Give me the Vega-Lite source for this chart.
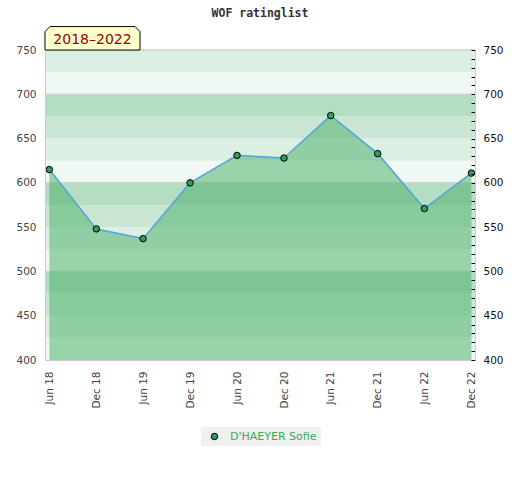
{
  "$schema": "https://vega.github.io/schema/vega-lite/v6.json",
  "width": 430,
  "height": 310,
  "autosize": {"type": "none"},
  "padding": {"left": 45, "top": 50, "right": 45, "bottom": 120},
  "background": "white",
  "title": {
    "text": "WOF ratinglist",
    "font": "DejaVu Sans Mono",
    "fontSize": 11.5,
    "fontWeight": "bold",
    "color": "#333333",
    "anchor": "middle",
    "offset": 5
  },
  "datasets": {
    "ratings": [
      {"date": "2018-06-15", "rating": 615, "player": "D'HAEYER Sofie"},
      {"date": "2018-12-15", "rating": 548, "player": "D'HAEYER Sofie"},
      {"date": "2019-06-15", "rating": 537, "player": "D'HAEYER Sofie"},
      {"date": "2019-12-15", "rating": 600, "player": "D'HAEYER Sofie"},
      {"date": "2020-06-15", "rating": 631, "player": "D'HAEYER Sofie"},
      {"date": "2020-12-15", "rating": 628, "player": "D'HAEYER Sofie"},
      {"date": "2021-06-15", "rating": 676, "player": "D'HAEYER Sofie"},
      {"date": "2021-12-15", "rating": 633, "player": "D'HAEYER Sofie"},
      {"date": "2022-06-15", "rating": 571, "player": "D'HAEYER Sofie"},
      {"date": "2022-12-15", "rating": 611, "player": "D'HAEYER Sofie"}
    ],
    "bands": [
      {"lo": 400, "hi": 425, "shade": 0},
      {"lo": 425, "hi": 450, "shade": 1},
      {"lo": 450, "hi": 475, "shade": 2},
      {"lo": 475, "hi": 500, "shade": 3},
      {"lo": 500, "hi": 525, "shade": 0},
      {"lo": 525, "hi": 550, "shade": 1},
      {"lo": 550, "hi": 575, "shade": 2},
      {"lo": 575, "hi": 600, "shade": 3},
      {"lo": 600, "hi": 625, "shade": 0},
      {"lo": 625, "hi": 650, "shade": 1},
      {"lo": 650, "hi": 675, "shade": 2},
      {"lo": 675, "hi": 700, "shade": 3},
      {"lo": 700, "hi": 725, "shade": 0},
      {"lo": 725, "hi": 750, "shade": 1}
    ],
    "badge": [{"label": "2018–2022"}]
  },
  "layer": [
    {
      "data": {"name": "bands"},
      "mark": {"type": "rect"},
      "encoding": {
        "y": {
          "field": "lo", "type": "quantitative",
          "scale": {"domain": [400, 750], "nice": false, "zero": false},
          "axis": {
            "orient": "left",
            "values": [400, 450, 500, 550, 600, 650, 700, 750],
            "ticks": false,
            "labelPadding": 9,
            "domainColor": "#cccccc",
            "labelColor": "#444444",
            "zindex": 1,
            "title": null,
            "grid": false
          }
        },
        "y2": {"field": "hi"},
        "color": {
          "field": "shade", "type": "ordinal",
          "scale": {"domain": [0, 1, 2, 3], "range": ["#eff8f2", "#dcefe3", "#c8e6d3", "#b4ddc2"]},
          "legend": null
        }
      }
    },
    {
      "data": {"name": "bands"},
      "transform": [{"filter": "datum.shade == 0 && datum.lo > 400"}],
      "mark": {"type": "rule", "color": "#d3d3d3", "strokeWidth": 1.5},
      "encoding": {
        "y": {"field": "lo", "type": "quantitative", "axis": null}
      }
    },
    {
      "data": {"name": "bands"},
      "transform": [{"filter": "datum.hi == 750"}],
      "mark": {"type": "rule", "color": "#d3d3d3", "strokeWidth": 1.5},
      "encoding": {
        "y": {"field": "hi", "type": "quantitative", "axis": null}
      }
    },
    {
      "data": {"name": "ratings"},
      "mark": {"type": "area", "color": "#4bb168", "opacity": 0.52},
      "encoding": {
        "x": {
          "field": "date", "type": "temporal",
          "scale": {"domain": [{"year": 2018, "month": 5, "date": 29}, {"year": 2022, "month": 12, "date": 29}]},
          "axis": {
            "orient": "bottom",
            "values": [
              {"year": 2018, "month": 6, "date": 15}, {"year": 2018, "month": 12, "date": 15},
              {"year": 2019, "month": 6, "date": 15}, {"year": 2019, "month": 12, "date": 15},
              {"year": 2020, "month": 6, "date": 15}, {"year": 2020, "month": 12, "date": 15},
              {"year": 2021, "month": 6, "date": 15}, {"year": 2021, "month": 12, "date": 15},
              {"year": 2022, "month": 6, "date": 15}, {"year": 2022, "month": 12, "date": 15}
            ],
            "format": "%b %y",
            "labelAngle": -90,
            "labelPadding": 11,
            "ticks": false,
            "grid": false,
            "domainColor": "#cccccc",
            "labelColor": "#444444",
            "labelFontSize": 10.5,
            "zindex": 1,
            "title": null
          }
        },
        "y": {"field": "rating", "type": "quantitative", "axis": null},
        "y2": {"datum": 400}
      }
    },
    {
      "data": {"name": "ratings"},
      "mark": {"type": "line", "color": "#5aa5d8", "strokeWidth": 1.6},
      "encoding": {
        "x": {"field": "date", "type": "temporal", "axis": null},
        "y": {
          "field": "rating", "type": "quantitative",
          "axis": {
            "orient": "right",
            "values": [400, 410, 420, 430, 440, 450, 460, 470, 480, 490, 500, 510, 520, 530, 540, 550, 560, 570, 580, 590, 600, 610, 620, 630, 640, 650, 660, 670, 680, 690, 700, 710, 720, 730, 740, 750],
            "labelExpr": "datum.value % 50 === 0 ? datum.label : ''",
            "tickSize": -4,
            "tickColor": "#000000",
            "labelPadding": 12,
            "labelColor": "#111111",
            "domainColor": "#cccccc",
            "grid": false,
            "zindex": 1,
            "title": null
          }
        }
      }
    },
    {
      "data": {"name": "ratings"},
      "transform": [{"filter": "datum.date === '2018-06-15' || datum.date === '2022-12-15'"}],
      "mark": {"type": "rule", "color": "#3c9a52", "strokeWidth": 1.2},
      "encoding": {
        "x": {"field": "date", "type": "temporal", "axis": null},
        "y": {"field": "rating", "type": "quantitative", "axis": null},
        "y2": {"datum": 400}
      }
    },
    {
      "data": {"name": "ratings"},
      "mark": {"type": "point", "shape": "circle", "filled": true, "size": 42, "stroke": "#000000", "strokeWidth": 1, "opacity": 1},
      "encoding": {
        "x": {"field": "date", "type": "temporal", "axis": null},
        "y": {"field": "rating", "type": "quantitative", "axis": null},
        "fill": {
          "field": "player", "type": "nominal",
          "scale": {"range": ["#2e9e58"]},
          "legend": {
            "orient": "none",
            "legendX": 156,
            "legendY": 377,
            "direction": "horizontal",
            "title": null,
            "fillColor": "#f0f0f0",
            "padding": 4,
            "symbolType": "circle",
            "symbolSize": 42,
            "symbolStrokeColor": "#000000",
            "symbolStrokeWidth": 1,
            "symbolOffset": 4,
            "labelFont": "DejaVu Sans",
            "labelFontSize": 11,
            "labelColor": "#3aaa5a",
            "labelOffset": 10
          }
        }
      }
    },
    {
      "data": {"name": "badge"},
      "mark": {
        "type": "point",
        "shape": "M -1 0.247 L -1 -0.142 L -0.895 -0.247 L 0.895 -0.247 L 1 -0.142 L 1 0.247 Z",
        "filled": true,
        "fill": "#ffffcc",
        "stroke": "#000000",
        "strokeWidth": 1,
        "size": 9025,
        "opacity": 1,
        "clip": false
      },
      "encoding": {
        "x": {"datum": {"year": 2018, "month": 11, "date": 30}, "type": "temporal", "axis": null},
        "y": {"datum": 763.2, "type": "quantitative", "axis": null}
      }
    },
    {
      "data": {"name": "badge"},
      "mark": {"type": "text", "font": "DejaVu Sans", "fontSize": 14, "color": "#990000", "baseline": "middle", "align": "center", "dy": 2, "clip": false},
      "encoding": {
        "x": {"datum": {"year": 2018, "month": 11, "date": 30}, "type": "temporal", "axis": null},
        "y": {"datum": 763.2, "type": "quantitative", "axis": null},
        "text": {"field": "label"}
      }
    }
  ],
  "resolve": {"axis": {"y": "independent", "x": "independent"}},
  "config": {
    "view": {"stroke": null},
    "axis": {"labelFont": "DejaVu Sans", "labelFontSize": 10.5}
  }
}
